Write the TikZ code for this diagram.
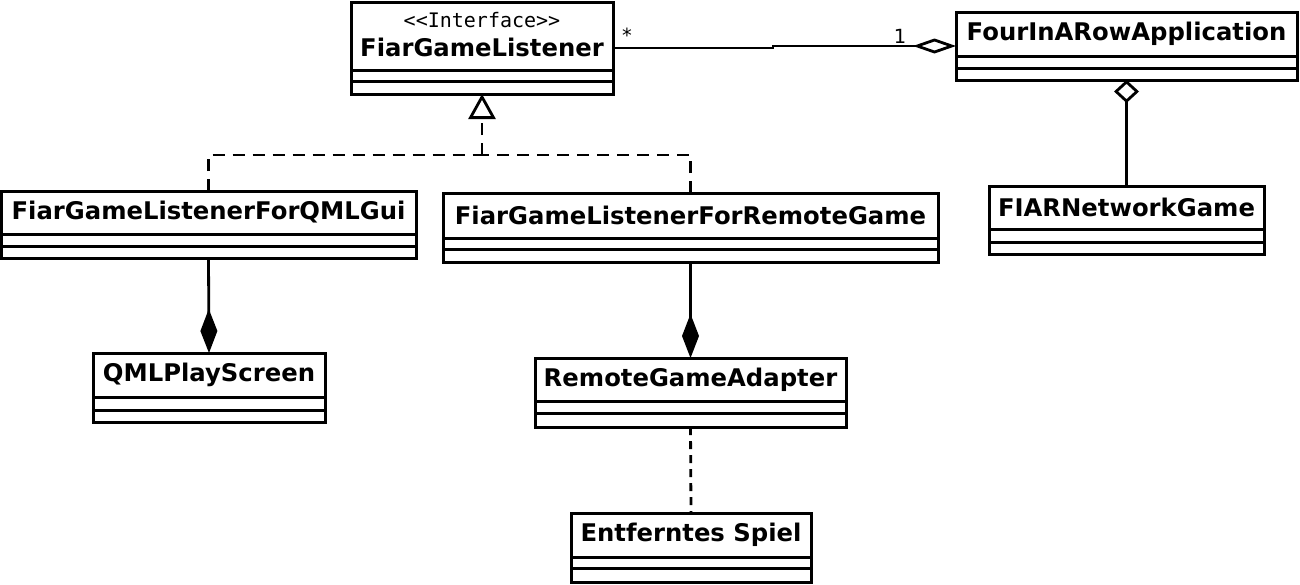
\documentclass[tikz,border=0pt]{standalone}
\usepackage{fontspec}
\setmainfont{DejaVu Sans}
\newfontfamily\stereofont{DejaVu Sans Mono}
\usetikzlibrary{arrows.meta}
\tikzset{
  classbox/.style={draw, line width=3pt, inner sep=0pt, outer sep=0pt, fill=white},
  boxline/.style={line width=3pt},
  classname/.style={inner sep=0pt, font=\fontsize{24.3}{28}\selectfont\bfseries},
  stereo/.style={inner sep=0pt, font=\fontsize{20}{23}\selectfont\stereofont},
  mult/.style={inner sep=0pt, font=\fontsize{19.5}{22}\selectfont},
  conn/.style={line width=2.8pt},
  realize/.style={conn, dash pattern=on 12pt off 8pt},
  depend/.style={conn, dash pattern=on 8pt off 6pt},
}
\newcommand\umlclass[8]{%
  \node[classbox, minimum width={#4-#2}, minimum height={#7-#3}] (#1) at ({(#2+#4)/2},{(#3+#7)/2}) {};
  \draw[boxline] (#2,#5) -- (#4,#5) (#2,#6) -- (#4,#6);
  \node[classname] (#1-name) at ({(#2+#4)/2},{(#3+#5)/2}) {#8};
}
\begin{document}
\begin{tikzpicture}[x=1pt,y=-1pt]
\useasboundingbox[fill=white] (0,0) rectangle (1300,584);

% interface box (custom name position)
\node[classbox, minimum width=262, minimum height=92] (fgl) at (482,48) {};
\draw[boxline] (351,70) -- (613,70) (351,81) -- (613,81);
\node[stereo] (fgl-st) at (482,20) {<<Interface>>};
\node[classname] (fgl-name) at (482,47) {FiarGameListener};

\umlclass{app}{956}{12}{1297}{56}{68}{80}{FourInARowApplication}
\umlclass{net}{989}{186}{1264}{229}{242}{254}{FIARNetworkGame}
\umlclass{qmlgui}{1}{191}{416}{234}{246}{258}{FiarGameListenerForQMLGui}
\umlclass{remote}{443}{193}{938}{238}{249}{262}{FiarGameListenerForRemoteGame}
\umlclass{screen}{93}{353}{325}{397}{410}{422}{QMLPlayScreen}
\umlclass{adapter}{535}{358}{846}{401}{413}{427}{RemoteGameAdapter}
\umlclass{spiel}{571}{513}{811}{557}{568}{582}{Entferntes Spiel}

% association with aggregation
\coordinate (bend) at (773,48);
\draw[conn, -{Diamond[open, fill=white, length=43pt, width=15pt]}] (fgl.east) -- (bend) |- (app.west);
\node[mult] (star) at (627,35) {*};
\node[mult] (one) at (900,36) {1};

% aggregation vertical
\draw[conn, -{Diamond[open, fill=white, length=23pt, width=25pt]}] (net.north) -- (app.south);

% realization
\coordinate (j) at (482,155);
\draw[realize] (qmlgui.north) |- (j);
\draw[realize] (remote.north) |- (j);
\draw[realize, -{Triangle[open, fill=white, length=25pt, width=27pt]}] (j) -- (fgl.south);

% compositions
\draw[conn, -{Diamond[length=44pt, width=17pt]}] (qmlgui.south) -- (screen.north);
\draw[conn, -{Diamond[length=44pt, width=17pt]}] (remote.south) -- (adapter.north);

% dependency
\draw[depend] (adapter.south) -- (spiel.north);
\end{tikzpicture}
\end{document}
